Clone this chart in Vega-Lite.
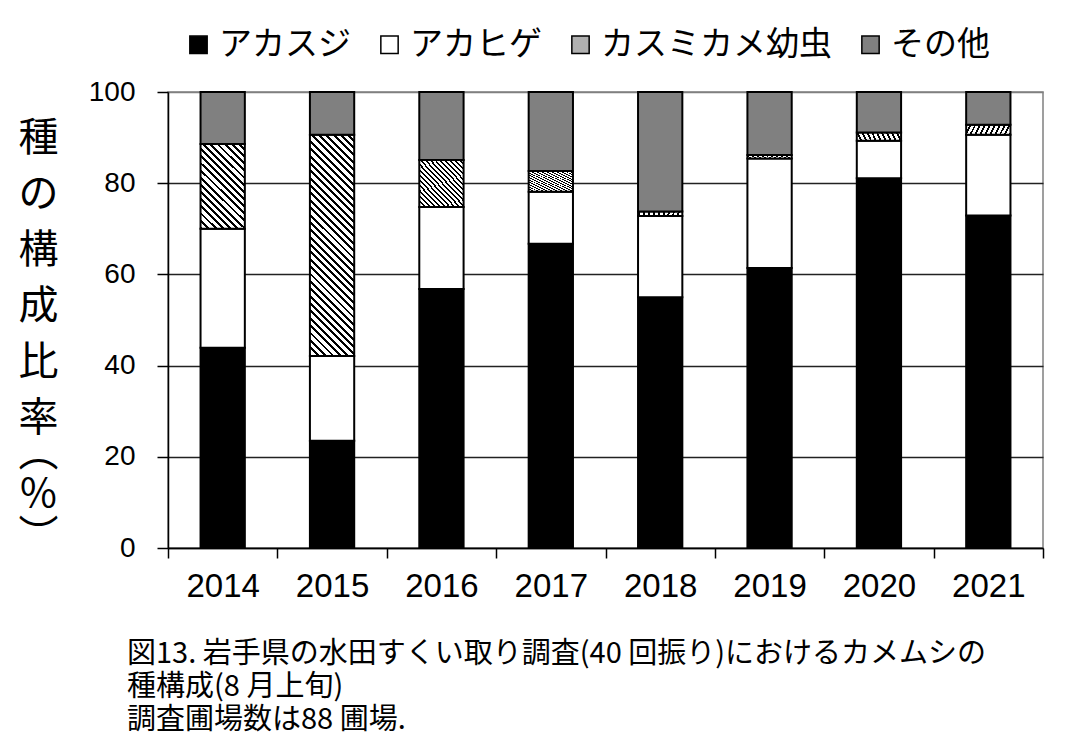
{
  "$schema": "https://vega.github.io/schema/vega-lite/v6.json",
  "width": 875,
  "height": 456,
  "autosize": {"type": "none"},
  "padding": {"left": 168, "top": 92, "right": 32, "bottom": 205},
  "background": "white",
  "config": {
    "view": {"stroke": "#808080", "strokeWidth": 1.5},
    "font": "Noto Sans CJK JP"
  },
  "title": {
    "text": ["図13. 岩手県の水田すくい取り調査(40 回振り)におけるカメムシの", "種構成(8 月上旬)", "調査圃場数は88 圃場."],
    "orient": "bottom",
    "anchor": "start",
    "frame": "group",
    "dx": -41,
    "offset": 37,
    "fontSize": 29,
    "font": "Noto Sans CJK JP",
    "fontWeight": "normal",
    "color": "#000",
    "lineHeight": 33,
    "align": "left"
  },
  "data": {
    "values": [
      {"year": "2014", "species": "アカスジ", "value": 43.9, "k": 1},
      {"year": "2014", "species": "アカヒゲ", "value": 26.1, "k": 2},
      {"year": "2014", "species": "カスミカメ幼虫", "value": 18.6, "k": 3},
      {"year": "2014", "species": "その他", "value": 11.4, "k": 4},
      {"year": "2015", "species": "アカスジ", "value": 23.5, "k": 1},
      {"year": "2015", "species": "アカヒゲ", "value": 18.6, "k": 2},
      {"year": "2015", "species": "カスミカメ幼虫", "value": 48.5, "k": 3},
      {"year": "2015", "species": "その他", "value": 9.4, "k": 4},
      {"year": "2016", "species": "アカスジ", "value": 56.8, "k": 1},
      {"year": "2016", "species": "アカヒゲ", "value": 18.0, "k": 2},
      {"year": "2016", "species": "カスミカメ幼虫", "value": 10.3, "k": 3},
      {"year": "2016", "species": "その他", "value": 14.9, "k": 4},
      {"year": "2017", "species": "アカスジ", "value": 66.7, "k": 1},
      {"year": "2017", "species": "アカヒゲ", "value": 11.4, "k": 2},
      {"year": "2017", "species": "カスミカメ幼虫", "value": 4.6, "k": 3},
      {"year": "2017", "species": "その他", "value": 17.3, "k": 4},
      {"year": "2018", "species": "アカスジ", "value": 55.0, "k": 1},
      {"year": "2018", "species": "アカヒゲ", "value": 17.8, "k": 2},
      {"year": "2018", "species": "カスミカメ幼虫", "value": 1.0, "k": 3},
      {"year": "2018", "species": "その他", "value": 26.2, "k": 4},
      {"year": "2019", "species": "アカスジ", "value": 61.4, "k": 1},
      {"year": "2019", "species": "アカヒゲ", "value": 24.0, "k": 2},
      {"year": "2019", "species": "カスミカメ幼虫", "value": 0.8, "k": 3},
      {"year": "2019", "species": "その他", "value": 13.8, "k": 4},
      {"year": "2020", "species": "アカスジ", "value": 81.1, "k": 1},
      {"year": "2020", "species": "アカヒゲ", "value": 8.2, "k": 2},
      {"year": "2020", "species": "カスミカメ幼虫", "value": 1.8, "k": 3},
      {"year": "2020", "species": "その他", "value": 8.9, "k": 4},
      {"year": "2021", "species": "アカスジ", "value": 72.9, "k": 1},
      {"year": "2021", "species": "アカヒゲ", "value": 17.7, "k": 2},
      {"year": "2021", "species": "カスミカメ幼虫", "value": 2.2, "k": 3},
      {"year": "2021", "species": "その他", "value": 7.2, "k": 4}
    ]
  },
  "mark": {"type": "bar", "stroke": "#000", "strokeWidth": 2, "width": {"band": 0.405}},
  "encoding": {
    "x": {
      "field": "year",
      "type": "ordinal",
      "scale": {"paddingInner": 0, "paddingOuter": 0},
      "axis": {
        "title": ["︵", "%", "︶"],
        "titleAngle": 0,
        "titleX": -130,
        "titleY": -115,
        "titleBaseline": "top",
        "titleAlign": "center",
        "titleFont": "Noto Sans CJK JP",
        "titleFontSize": 40,
        "titleFontWeight": "normal",
        "titleColor": "#000",
        "titleLineHeight": 41.5,
        "labelAngle": 0,
        "labelFont": "Liberation Sans",
        "labelFontSize": 33,
        "labelColor": "#000",
        "labelPadding": 12,
        "tickBand": "extent",
        "tickSize": 10,
        "tickColor": "#000",
        "tickWidth": 1.5,
        "domainColor": "#000",
        "domainWidth": 1.5,
        "grid": false
      }
    },
    "y": {
      "field": "value",
      "type": "quantitative",
      "stack": "zero",
      "scale": {"domain": [0, 100], "nice": false},
      "axis": {
        "values": [0, 20, 40, 60, 80, 100],
        "labelFont": "Liberation Sans",
        "labelFontSize": 28,
        "labelColor": "#000",
        "labelPadding": 22,
        "tickSize": 11,
        "tickColor": "#000",
        "tickWidth": 1.5,
        "domainColor": "#000",
        "domainWidth": 1.5,
        "grid": true,
        "gridColor": {"condition": {"test": "datum.value === 100", "value": "#808080"}, "value": "#222"},
        "gridWidth": 1.5,
        "title": ["種", "の", "構", "成", "比", "率"],
        "titleAngle": 0,
        "titleX": -130,
        "titleY": 26,
        "titleBaseline": "top",
        "titleAlign": "center",
        "titleFont": "Noto Sans CJK JP",
        "titleFontSize": 40,
        "titleFontWeight": "normal",
        "titleColor": "#000",
        "titleLineHeight": 56
      }
    },
    "fill": {
      "condition": [
        {
          "test": "datum.species === 'カスミカメ幼虫' && datum.year === '2015'",
          "value": {
            "gradient": "linear",
            "x1": 0, "y1": 1, "x2": 0.231, "y2": -0.154,
            "stops": [
              {"offset": 0, "color": "#000"}, {"offset": 0.0111, "color": "#000"}, {"offset": 0.0111, "color": "#fff"}, {"offset": 0.0278, "color": "#fff"},
              {"offset": 0.0278, "color": "#000"}, {"offset": 0.0389, "color": "#000"}, {"offset": 0.0389, "color": "#fff"}, {"offset": 0.0556, "color": "#fff"},
              {"offset": 0.0556, "color": "#000"}, {"offset": 0.0667, "color": "#000"}, {"offset": 0.0667, "color": "#fff"}, {"offset": 0.0833, "color": "#fff"},
              {"offset": 0.0833, "color": "#000"}, {"offset": 0.0944, "color": "#000"}, {"offset": 0.0944, "color": "#fff"}, {"offset": 0.1111, "color": "#fff"},
              {"offset": 0.1111, "color": "#000"}, {"offset": 0.1222, "color": "#000"}, {"offset": 0.1222, "color": "#fff"}, {"offset": 0.1389, "color": "#fff"},
              {"offset": 0.1389, "color": "#000"}, {"offset": 0.15, "color": "#000"}, {"offset": 0.15, "color": "#fff"}, {"offset": 0.1667, "color": "#fff"},
              {"offset": 0.1667, "color": "#000"}, {"offset": 0.1778, "color": "#000"}, {"offset": 0.1778, "color": "#fff"}, {"offset": 0.1944, "color": "#fff"},
              {"offset": 0.1944, "color": "#000"}, {"offset": 0.2056, "color": "#000"}, {"offset": 0.2056, "color": "#fff"}, {"offset": 0.2222, "color": "#fff"},
              {"offset": 0.2222, "color": "#000"}, {"offset": 0.2333, "color": "#000"}, {"offset": 0.2333, "color": "#fff"}, {"offset": 0.25, "color": "#fff"},
              {"offset": 0.25, "color": "#000"}, {"offset": 0.2611, "color": "#000"}, {"offset": 0.2611, "color": "#fff"}, {"offset": 0.2778, "color": "#fff"},
              {"offset": 0.2778, "color": "#000"}, {"offset": 0.2889, "color": "#000"}, {"offset": 0.2889, "color": "#fff"}, {"offset": 0.3056, "color": "#fff"},
              {"offset": 0.3056, "color": "#000"}, {"offset": 0.3167, "color": "#000"}, {"offset": 0.3167, "color": "#fff"}, {"offset": 0.3333, "color": "#fff"},
              {"offset": 0.3333, "color": "#000"}, {"offset": 0.3444, "color": "#000"}, {"offset": 0.3444, "color": "#fff"}, {"offset": 0.3611, "color": "#fff"},
              {"offset": 0.3611, "color": "#000"}, {"offset": 0.3722, "color": "#000"}, {"offset": 0.3722, "color": "#fff"}, {"offset": 0.3889, "color": "#fff"},
              {"offset": 0.3889, "color": "#000"}, {"offset": 0.4, "color": "#000"}, {"offset": 0.4, "color": "#fff"}, {"offset": 0.4167, "color": "#fff"},
              {"offset": 0.4167, "color": "#000"}, {"offset": 0.4278, "color": "#000"}, {"offset": 0.4278, "color": "#fff"}, {"offset": 0.4444, "color": "#fff"},
              {"offset": 0.4444, "color": "#000"}, {"offset": 0.4556, "color": "#000"}, {"offset": 0.4556, "color": "#fff"}, {"offset": 0.4722, "color": "#fff"},
              {"offset": 0.4722, "color": "#000"}, {"offset": 0.4833, "color": "#000"}, {"offset": 0.4833, "color": "#fff"}, {"offset": 0.5, "color": "#fff"},
              {"offset": 0.5, "color": "#000"}, {"offset": 0.5111, "color": "#000"}, {"offset": 0.5111, "color": "#fff"}, {"offset": 0.5278, "color": "#fff"},
              {"offset": 0.5278, "color": "#000"}, {"offset": 0.5389, "color": "#000"}, {"offset": 0.5389, "color": "#fff"}, {"offset": 0.5556, "color": "#fff"},
              {"offset": 0.5556, "color": "#000"}, {"offset": 0.5667, "color": "#000"}, {"offset": 0.5667, "color": "#fff"}, {"offset": 0.5833, "color": "#fff"},
              {"offset": 0.5833, "color": "#000"}, {"offset": 0.5944, "color": "#000"}, {"offset": 0.5944, "color": "#fff"}, {"offset": 0.6111, "color": "#fff"},
              {"offset": 0.6111, "color": "#000"}, {"offset": 0.6222, "color": "#000"}, {"offset": 0.6222, "color": "#fff"}, {"offset": 0.6389, "color": "#fff"},
              {"offset": 0.6389, "color": "#000"}, {"offset": 0.65, "color": "#000"}, {"offset": 0.65, "color": "#fff"}, {"offset": 0.6667, "color": "#fff"},
              {"offset": 0.6667, "color": "#000"}, {"offset": 0.6778, "color": "#000"}, {"offset": 0.6778, "color": "#fff"}, {"offset": 0.6944, "color": "#fff"},
              {"offset": 0.6944, "color": "#000"}, {"offset": 0.7056, "color": "#000"}, {"offset": 0.7056, "color": "#fff"}, {"offset": 0.7222, "color": "#fff"},
              {"offset": 0.7222, "color": "#000"}, {"offset": 0.7333, "color": "#000"}, {"offset": 0.7333, "color": "#fff"}, {"offset": 0.75, "color": "#fff"},
              {"offset": 0.75, "color": "#000"}, {"offset": 0.7611, "color": "#000"}, {"offset": 0.7611, "color": "#fff"}, {"offset": 0.7778, "color": "#fff"},
              {"offset": 0.7778, "color": "#000"}, {"offset": 0.7889, "color": "#000"}, {"offset": 0.7889, "color": "#fff"}, {"offset": 0.8056, "color": "#fff"},
              {"offset": 0.8056, "color": "#000"}, {"offset": 0.8167, "color": "#000"}, {"offset": 0.8167, "color": "#fff"}, {"offset": 0.8333, "color": "#fff"},
              {"offset": 0.8333, "color": "#000"}, {"offset": 0.8444, "color": "#000"}, {"offset": 0.8444, "color": "#fff"}, {"offset": 0.8611, "color": "#fff"},
              {"offset": 0.8611, "color": "#000"}, {"offset": 0.8722, "color": "#000"}, {"offset": 0.8722, "color": "#fff"}, {"offset": 0.8889, "color": "#fff"},
              {"offset": 0.8889, "color": "#000"}, {"offset": 0.9, "color": "#000"}, {"offset": 0.9, "color": "#fff"}, {"offset": 0.9167, "color": "#fff"},
              {"offset": 0.9167, "color": "#000"}, {"offset": 0.9278, "color": "#000"}, {"offset": 0.9278, "color": "#fff"}, {"offset": 0.9444, "color": "#fff"},
              {"offset": 0.9444, "color": "#000"}, {"offset": 0.9556, "color": "#000"}, {"offset": 0.9556, "color": "#fff"}, {"offset": 0.9722, "color": "#fff"},
              {"offset": 0.9722, "color": "#000"}, {"offset": 0.9833, "color": "#000"}, {"offset": 0.9833, "color": "#fff"}, {"offset": 1, "color": "#fff"}
            ]
          }
        },
        {
          "test": "datum.species === 'カスミカメ幼虫' && datum.year === '2014'",
          "value": {
            "gradient": "linear",
            "x1": 0, "y1": 1, "x2": 0.62, "y2": -0.197,
            "stops": [
              {"offset": 0, "color": "#000"}, {"offset": 0.0222, "color": "#000"}, {"offset": 0.0222, "color": "#fff"}, {"offset": 0.0556, "color": "#fff"},
              {"offset": 0.0556, "color": "#000"}, {"offset": 0.0778, "color": "#000"}, {"offset": 0.0778, "color": "#fff"}, {"offset": 0.1111, "color": "#fff"},
              {"offset": 0.1111, "color": "#000"}, {"offset": 0.1333, "color": "#000"}, {"offset": 0.1333, "color": "#fff"}, {"offset": 0.1667, "color": "#fff"},
              {"offset": 0.1667, "color": "#000"}, {"offset": 0.1889, "color": "#000"}, {"offset": 0.1889, "color": "#fff"}, {"offset": 0.2222, "color": "#fff"},
              {"offset": 0.2222, "color": "#000"}, {"offset": 0.2444, "color": "#000"}, {"offset": 0.2444, "color": "#fff"}, {"offset": 0.2778, "color": "#fff"},
              {"offset": 0.2778, "color": "#000"}, {"offset": 0.3, "color": "#000"}, {"offset": 0.3, "color": "#fff"}, {"offset": 0.3333, "color": "#fff"},
              {"offset": 0.3333, "color": "#000"}, {"offset": 0.3556, "color": "#000"}, {"offset": 0.3556, "color": "#fff"}, {"offset": 0.3889, "color": "#fff"},
              {"offset": 0.3889, "color": "#000"}, {"offset": 0.4111, "color": "#000"}, {"offset": 0.4111, "color": "#fff"}, {"offset": 0.4444, "color": "#fff"},
              {"offset": 0.4444, "color": "#000"}, {"offset": 0.4667, "color": "#000"}, {"offset": 0.4667, "color": "#fff"}, {"offset": 0.5, "color": "#fff"},
              {"offset": 0.5, "color": "#000"}, {"offset": 0.5222, "color": "#000"}, {"offset": 0.5222, "color": "#fff"}, {"offset": 0.5556, "color": "#fff"},
              {"offset": 0.5556, "color": "#000"}, {"offset": 0.5778, "color": "#000"}, {"offset": 0.5778, "color": "#fff"}, {"offset": 0.6111, "color": "#fff"},
              {"offset": 0.6111, "color": "#000"}, {"offset": 0.6333, "color": "#000"}, {"offset": 0.6333, "color": "#fff"}, {"offset": 0.6667, "color": "#fff"},
              {"offset": 0.6667, "color": "#000"}, {"offset": 0.6889, "color": "#000"}, {"offset": 0.6889, "color": "#fff"}, {"offset": 0.7222, "color": "#fff"},
              {"offset": 0.7222, "color": "#000"}, {"offset": 0.7444, "color": "#000"}, {"offset": 0.7444, "color": "#fff"}, {"offset": 0.7778, "color": "#fff"},
              {"offset": 0.7778, "color": "#000"}, {"offset": 0.8, "color": "#000"}, {"offset": 0.8, "color": "#fff"}, {"offset": 0.8333, "color": "#fff"},
              {"offset": 0.8333, "color": "#000"}, {"offset": 0.8556, "color": "#000"}, {"offset": 0.8556, "color": "#fff"}, {"offset": 0.8889, "color": "#fff"},
              {"offset": 0.8889, "color": "#000"}, {"offset": 0.9111, "color": "#000"}, {"offset": 0.9111, "color": "#fff"}, {"offset": 0.9444, "color": "#fff"},
              {"offset": 0.9444, "color": "#000"}, {"offset": 0.9667, "color": "#000"}, {"offset": 0.9667, "color": "#fff"}, {"offset": 1, "color": "#fff"}
            ]
          }
        },
        {
          "test": "datum.species === 'カスミカメ幼虫'",
          "value": {
            "gradient": "linear",
            "x1": 0, "y1": 1, "x2": 1, "y2": 0,
            "stops": [
              {"offset": 0, "color": "#000"}, {"offset": 0.0222, "color": "#000"}, {"offset": 0.0222, "color": "#fff"}, {"offset": 0.0556, "color": "#fff"},
              {"offset": 0.0556, "color": "#000"}, {"offset": 0.0778, "color": "#000"}, {"offset": 0.0778, "color": "#fff"}, {"offset": 0.1111, "color": "#fff"},
              {"offset": 0.1111, "color": "#000"}, {"offset": 0.1333, "color": "#000"}, {"offset": 0.1333, "color": "#fff"}, {"offset": 0.1667, "color": "#fff"},
              {"offset": 0.1667, "color": "#000"}, {"offset": 0.1889, "color": "#000"}, {"offset": 0.1889, "color": "#fff"}, {"offset": 0.2222, "color": "#fff"},
              {"offset": 0.2222, "color": "#000"}, {"offset": 0.2444, "color": "#000"}, {"offset": 0.2444, "color": "#fff"}, {"offset": 0.2778, "color": "#fff"},
              {"offset": 0.2778, "color": "#000"}, {"offset": 0.3, "color": "#000"}, {"offset": 0.3, "color": "#fff"}, {"offset": 0.3333, "color": "#fff"},
              {"offset": 0.3333, "color": "#000"}, {"offset": 0.3556, "color": "#000"}, {"offset": 0.3556, "color": "#fff"}, {"offset": 0.3889, "color": "#fff"},
              {"offset": 0.3889, "color": "#000"}, {"offset": 0.4111, "color": "#000"}, {"offset": 0.4111, "color": "#fff"}, {"offset": 0.4444, "color": "#fff"},
              {"offset": 0.4444, "color": "#000"}, {"offset": 0.4667, "color": "#000"}, {"offset": 0.4667, "color": "#fff"}, {"offset": 0.5, "color": "#fff"},
              {"offset": 0.5, "color": "#000"}, {"offset": 0.5222, "color": "#000"}, {"offset": 0.5222, "color": "#fff"}, {"offset": 0.5556, "color": "#fff"},
              {"offset": 0.5556, "color": "#000"}, {"offset": 0.5778, "color": "#000"}, {"offset": 0.5778, "color": "#fff"}, {"offset": 0.6111, "color": "#fff"},
              {"offset": 0.6111, "color": "#000"}, {"offset": 0.6333, "color": "#000"}, {"offset": 0.6333, "color": "#fff"}, {"offset": 0.6667, "color": "#fff"},
              {"offset": 0.6667, "color": "#000"}, {"offset": 0.6889, "color": "#000"}, {"offset": 0.6889, "color": "#fff"}, {"offset": 0.7222, "color": "#fff"},
              {"offset": 0.7222, "color": "#000"}, {"offset": 0.7444, "color": "#000"}, {"offset": 0.7444, "color": "#fff"}, {"offset": 0.7778, "color": "#fff"},
              {"offset": 0.7778, "color": "#000"}, {"offset": 0.8, "color": "#000"}, {"offset": 0.8, "color": "#fff"}, {"offset": 0.8333, "color": "#fff"},
              {"offset": 0.8333, "color": "#000"}, {"offset": 0.8556, "color": "#000"}, {"offset": 0.8556, "color": "#fff"}, {"offset": 0.8889, "color": "#fff"},
              {"offset": 0.8889, "color": "#000"}, {"offset": 0.9111, "color": "#000"}, {"offset": 0.9111, "color": "#fff"}, {"offset": 0.9444, "color": "#fff"},
              {"offset": 0.9444, "color": "#000"}, {"offset": 0.9667, "color": "#000"}, {"offset": 0.9667, "color": "#fff"}, {"offset": 1, "color": "#fff"}
            ]
          }
        }
      ],
      "field": "species",
      "type": "nominal",
      "scale": {
        "domain": ["アカスジ", "アカヒゲ", "カスミカメ幼虫", "その他"],
        "range": ["#000000", "#ffffff", "#b0b0b0", "#808080"]
      },
      "legend": {
        "orient": "none",
        "legendX": 14,
        "legendY": -64,
        "direction": "horizontal",
        "title": null,
        "symbolType": "square",
        "symbolSize": 300,
        "labelFont": "Noto Sans CJK JP",
        "labelFontSize": 33,
        "labelColor": "#000",
        "labelOffset": 4,
        "labelLimit": 400,
        "columnPadding": 22,
        "encode": {
          "symbols": {
            "fill": {
              "condition": {
                "test": "datum.value === 'カスミカメ幼虫'",
                "value": {
                  "gradient": "linear",
                  "x1": 0, "y1": 1, "x2": 1, "y2": 0,
                  "stops": [
                    {"offset": 0, "color": "#000"}, {"offset": 0.08, "color": "#000"}, {"offset": 0.08, "color": "#fff"}, {"offset": 0.2, "color": "#fff"},
                    {"offset": 0.2, "color": "#000"}, {"offset": 0.28, "color": "#000"}, {"offset": 0.28, "color": "#fff"}, {"offset": 0.4, "color": "#fff"},
                    {"offset": 0.4, "color": "#000"}, {"offset": 0.48, "color": "#000"}, {"offset": 0.48, "color": "#fff"}, {"offset": 0.6, "color": "#fff"},
                    {"offset": 0.6, "color": "#000"}, {"offset": 0.68, "color": "#000"}, {"offset": 0.68, "color": "#fff"}, {"offset": 0.8, "color": "#fff"},
                    {"offset": 0.8, "color": "#000"}, {"offset": 0.88, "color": "#000"}, {"offset": 0.88, "color": "#fff"}, {"offset": 1, "color": "#fff"}
                  ]
                }
              },
              "value": {"signal": "scale('fill', datum.value)"}
            },
            "stroke": {"value": "#000"},
            "strokeWidth": {"value": 1.5},
            "opacity": {"value": 1}
          }
        }
      }
    },
    "order": {"field": "k", "type": "quantitative"}
  }
}
